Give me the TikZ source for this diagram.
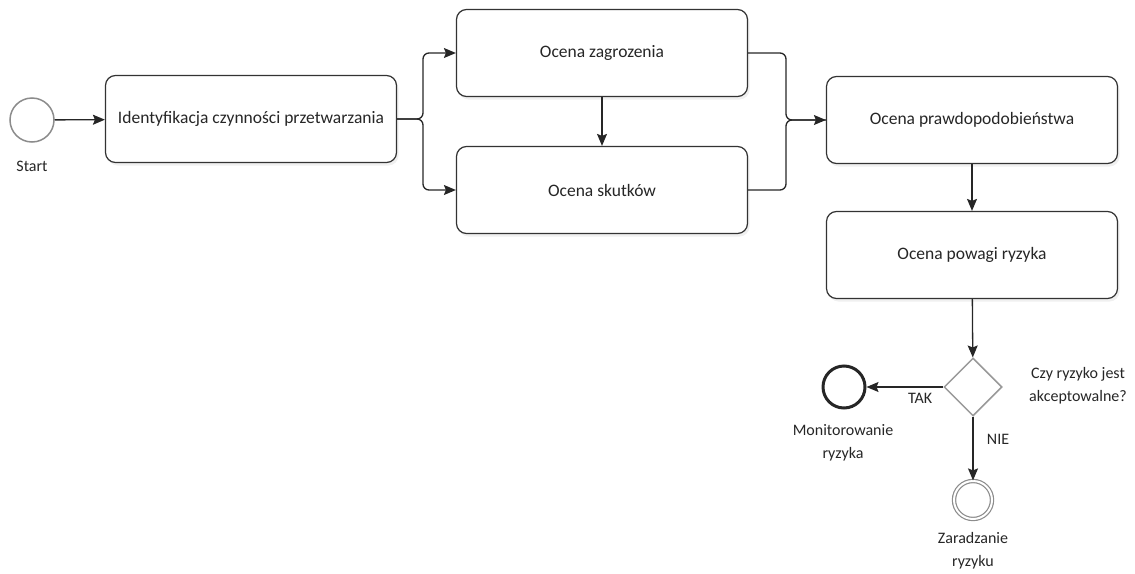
\documentclass[tikz,border=0pt]{standalone}
\usepackage{fontspec}
\setmainfont{Carlito}
\usepackage{tikz}
\usetikzlibrary{positioning,arrows.meta,shapes.geometric,shadows}

\begin{document}
\begin{tikzpicture}[
      x=1pt, y=-1pt,
      task/.style={draw=black!80, line width=1.2pt, rounded corners=10pt, fill=white,
                   minimum width=291pt, minimum height=87pt, align=center, font=\fontsize{17.5}{20}\selectfont,
                   text=black!85, drop shadow={shadow xshift=2pt, shadow yshift=-3pt, opacity=0.12}},
      startev/.style={circle, draw=black!45, line width=1.5pt, minimum size=44pt, inner sep=0pt, fill=white},
      endev/.style={circle, draw=black!85, line width=3pt, minimum size=42pt, inner sep=0pt, fill=white},
      midev/.style={circle, draw=black!45, double=white, double distance=2pt, line width=1.2pt, minimum size=38pt, inner sep=0pt, fill=white},
      gateway/.style={diamond, draw=black!40, line width=1.5pt, minimum size=58pt, inner sep=0pt, fill=white},
      lbl/.style={align=center, font=\fontsize{16}{23}\selectfont, text=black!85},
      arrow/.style={-{Stealth[length=12pt, width=10pt, inset=2pt]}, line width=1.3pt, draw=black!85},
      link/.style={line width=1.3pt, draw=black!85}
    ]
    \useasboundingbox (0,0) rectangle (1135,573);

    % events and tasks
    \node[startev] (start) at (32,120) {};
    \node[lbl] (startlbl) at (32,166) {Start};
    \node[task] (ident) at (251,119) {Identyfikacja czynności przetwarzania};
    \node[task] (zagr) at (602,53) {Ocena zagrozenia};
    \node[task] (skut) at (602,190) {Ocena skutków};
    \node[task] (prawd) at (972,120) {Ocena prawdopodobieństwa};
    \node[task] (powaga) at (972,255) {Ocena powagi ryzyka};
    \node[gateway] (akcept) at (973,387) {};
    \node[lbl] (akceptlbl) at (1078,386) {Czy ryzyko jest\\akceptowalne?};
    \node[endev] (monit) at (844,387) {};
    \node[lbl] (monitlbl) at (843,443) {Monitorowanie\\ryzyka};
    \node[midev] (zarad) at (973,500) {};
    \node[lbl] (zaradlbl) at (973,551) {Zaradzanie\\ryzyku};

    \coordinate (fork) at (423,119);
    \coordinate (join) at (786,120);

    % flows
    \draw[arrow] (start) -- (ident);
    \draw[arrow, rounded corners=6pt] (ident.east) -- (fork) |- (zagr.west);
    \draw[arrow, rounded corners=6pt] (ident.east) -- (fork) |- (skut.west);
    \draw[arrow] (zagr) -- (skut);
    \draw[link, rounded corners=6pt] (zagr.east) -| (join) -- (prawd.west);
    \draw[arrow, rounded corners=6pt] (skut.east) -| (join) -- (prawd.west);
    \draw[arrow] (prawd) -- (powaga);
    \draw[arrow] (powaga) -- (akcept);
    \draw[arrow] (akcept) -- node[lbl, below=2pt, pos=0.3] {TAK} (monit);
    \draw[arrow] (akcept) -- node[lbl, right=10pt, pos=0.35] {NIE} (zarad);
\end{tikzpicture}
\end{document}
